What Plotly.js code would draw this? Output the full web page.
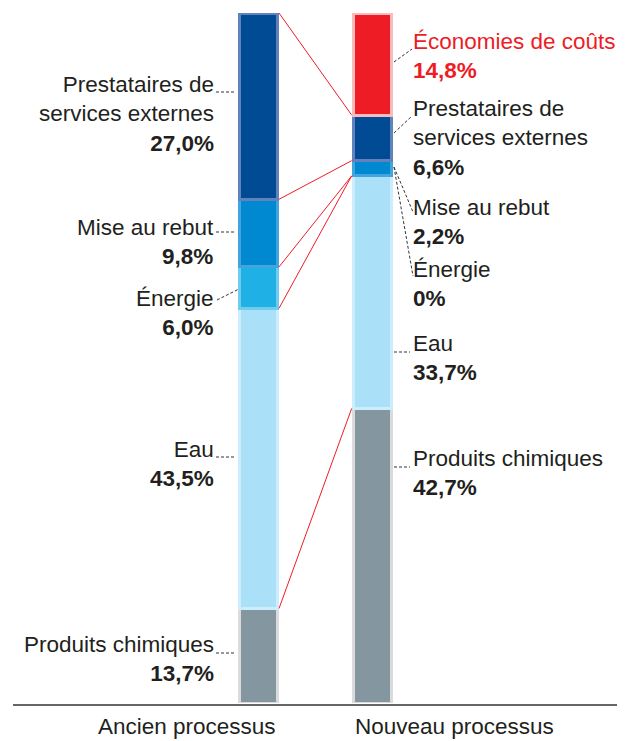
<!DOCTYPE html>
<html><head><meta charset="utf-8">
<script src="https://cdn.plot.ly/plotly-3.0.1.min.js"></script>
<style>html,body{margin:0;padding:0;background:#fff}#chart{width:626px;height:741px}</style>
</head><body><div id="chart"></div>
<script>
// ---- data ----
const processes = ['Ancien processus', 'Nouveau processus'];
const categories = ['Produits chimiques', 'Eau', 'Énergie', 'Mise au rebut', 'Prestataires de services externes', 'Économies de coûts'];
const ancien = [13.7, 43.5, 6.0, 9.8, 27.0, null];
const nouveau = [42.7, 33.7, 0, 2.2, 6.6, 14.8];
const labelsAncien = ['Produits chimiques', 'Eau', 'Énergie', 'Mise au rebut', 'Prestataires de<br>services externes', null];
const labelsNouveau = ['Produits chimiques', 'Eau', 'Énergie', 'Mise au rebut', 'Prestataires de<br>services externes', 'Économies de coûts'];

// ---- styles ----
const fills = ['#84969f', '#abe0f9', '#1fb1e6', '#0089d0', '#004b93', '#ee1c25'];
const borders = ['#dbdbdb', '#cbedfc', '#70ccef', '#42a5dd', '#6282bb', '#f8bcbe'];
const textColor = '#231f20';
const red = '#ee1c25';
const W = 626, H = 741, mT = 13, mB = 38;
const plotH = H - mT - mB;
const c0 = 258.5, c1 = 372.2, unit = c1 - c0;
const barW = 38 / unit;
const px = x => x / W;
const py = y => (H - mB - y) / plotH;
const fmt = v => (v === 0 ? '0' : v.toFixed(1).replace('.', ',')) + '%';

// label block centres (pixels) and leader lines (pixels)
const leftBlocks = [659, 464, 313, 241.5, 114];
const rightBlocks = [473, 357.5, 283.5, 221.5, 138, 56];
const leftLeaders = [[216,653,236,653],[216,457,236,457],[217,300,239,289],[216,232,236,232],[216,92,236,92]];
const rightLeaders = [[394,467,410,467],[394,352,410,352],[394,167,413,276],[394,167,413,212],[394,133,412,116],[394,62,412,49]];

const traces = categories.map((c, i) => {
  const xs = [], ys = [], lw = [];
  [ancien, nouveau].forEach((arr, k) => {
    if (arr[i] !== null) { xs.push(k); ys.push(arr[i]); lw.push(arr[i] === 0 ? 0 : 3); }
  });
  return {
    type: 'bar', name: c, x: xs, y: ys, width: barW,
    marker: {color: fills[i], line: {color: borders[i], width: lw}},
    hoverinfo: 'skip', showlegend: false
  };
});

const shapes = [];
const annotations = [];
// connecting red lines between tops of corresponding segments
let cumA = 0, cumN = 0;
const hw = barW / 2 + 1.5 / unit;
for (let i = 0; i < 5; i++) {
  cumA += ancien[i]; cumN += nouveau[i];
  shapes.push({type: 'line', xref: 'x', yref: 'y', x0: 0 + hw, y0: cumA, x1: 1 - hw, y1: cumN,
    line: {color: red, width: 1}});
}
// leaders
leftLeaders.concat(rightLeaders).forEach(l => {
  shapes.push({type: 'line', xref: 'paper', yref: 'paper', x0: px(l[0]), y0: py(l[1]), x1: px(l[2]), y1: py(l[3]),
    line: {color: '#333', width: 1, dash: '3px,2px'}});
});
// axis line
shapes.push({type: 'line', xref: 'paper', yref: 'paper', x0: px(13), x1: px(617), y0: py(705), y1: py(705),
  line: {color: '#333', width: 1.5}});

const font = {family: 'Liberation Sans, Arial, sans-serif', size: 22.5, color: textColor};
categories.forEach((c, i) => {
  if (labelsAncien[i] !== null) {
    annotations.push({xref: 'paper', yref: 'paper', x: px(216), y: py(leftBlocks[i]), xanchor: 'right', yanchor: 'middle',
      align: 'right', showarrow: false, font: font, text: labelsAncien[i] + '<br><b>' + fmt(ancien[i]) + '</b>'});
  }
  const f = i === 5 ? Object.assign({}, font, {color: red}) : font;
  annotations.push({xref: 'paper', yref: 'paper', x: px(411), y: py(rightBlocks[i]), xanchor: 'left', yanchor: 'middle',
    align: 'left', showarrow: false, font: f, text: labelsNouveau[i] + '<br><b>' + fmt(nouveau[i]) + '</b>'});
});
annotations.push({xref: 'paper', yref: 'paper', x: px(278), y: py(726), xanchor: 'right', yanchor: 'middle',
  showarrow: false, font: font, text: processes[0]});
annotations.push({xref: 'paper', yref: 'paper', x: px(353), y: py(726), xanchor: 'left', yanchor: 'middle',
  showarrow: false, font: font, text: processes[1]});

const layout = {
  width: W, height: H, margin: {l: 0, r: 0, t: mT, b: mB},
  paper_bgcolor: '#fff', plot_bgcolor: '#fff', barmode: 'stack', bargap: 0,
  xaxis: {visible: false, range: [-c0 / unit, 1 + (W - c1) / unit], fixedrange: true},
  yaxis: {visible: false, range: [0, 100], fixedrange: true},
  shapes: shapes, annotations: annotations
};
Plotly.newPlot('chart', traces, layout, {displayModeBar: false, staticPlot: true});
</script></body></html>
